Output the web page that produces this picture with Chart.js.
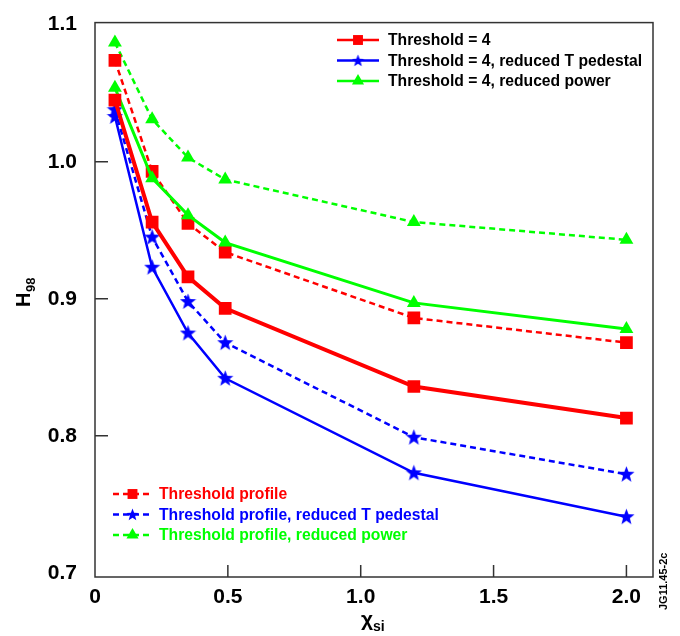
<!DOCTYPE html>
<html>
<head>
<meta charset="utf-8">
<script src="https://cdn.jsdelivr.net/npm/chart.js@4"></script>
<style>
  body { margin: 0; background: #fff; }
  #wrap { width: 680px; height: 636px; }
</style>
</head>
<body>
<div id="wrap"><canvas id="chart"></canvas></div>
<script>
// chi_si values (x) and H98 for each case
const chiSi = [0.075, 0.215, 0.35, 0.49, 1.2, 2.0];
const thr4 = [1.045, 0.956, 0.916, 0.893, 0.836, 0.813];
const thr4RedT = [1.033, 0.923, 0.875, 0.842, 0.773, 0.741];
const thr4RedP = [1.054, 0.988, 0.961, 0.941, 0.897, 0.878];
const prof = [1.074, 0.993, 0.955, 0.934, 0.886, 0.868];
const profRedT = [1.038, 0.945, 0.898, 0.868, 0.799, 0.772];
const profRedP = [1.087, 1.031, 1.003, 0.987, 0.956, 0.943];
const xTicks = [0, 0.5, 1.0, 1.5, 2.0];
const yTicks = [0.7, 0.8, 0.9, 1.0, 1.1];

const RED = '#ff0000', BLUE = '#0000ff', GREEN = '#00ff00';
const FONT = "'Liberation Sans', Arial, sans-serif";

function makeStar(size, color) {
  const c = document.createElement('canvas');
  c.width = size; c.height = size;
  const g = c.getContext('2d');
  const r = size / 2, ri = r * 0.42;
  g.fillStyle = color;
  g.beginPath();
  for (let i = 0; i < 10; i++) {
    const a = -Math.PI / 2 + i * Math.PI / 5;
    const rr = i % 2 ? ri : r;
    g.lineTo(r + rr * Math.cos(a), r + 0.5 + rr * Math.sin(a));
  }
  g.closePath();
  g.fill();
  return c;
}
const star = makeStar(17, BLUE);
const starSmall = makeStar(13, BLUE);

function pts(ys) { return ys.map((y, i) => ({x: chiSi[i], y: y})); }

const series = [
  {label: 'Threshold = 4', data: thr4, color: RED, style: 'rect', r: 9, dash: [], w: 4},
  {label: 'Threshold = 4, reduced T pedestal', data: thr4RedT, color: BLUE, style: star, r: 8, dash: [], w: 2.5},
  {label: 'Threshold = 4, reduced power', data: thr4RedP, color: GREEN, style: 'triangle', r: 8, dash: [], w: 3},
  {label: 'Threshold profile', data: prof, color: RED, style: 'rect', r: 9, dash: [6, 4], w: 2.5},
  {label: 'Threshold profile, reduced T pedestal', data: profRedT, color: BLUE, style: star, r: 8, dash: [6, 4], w: 2.5},
  {label: 'Threshold profile, reduced power', data: profRedP, color: GREEN, style: 'triangle', r: 8, dash: [6, 4], w: 2.5}
];

const decor = {
  id: 'decor',
  afterDraw(chart) {
    const ctx = chart.ctx, a = chart.chartArea;
    const xs = chart.scales.x, ys = chart.scales.y;
    ctx.save();
    // frame and inward ticks
    ctx.strokeStyle = '#333';
    ctx.lineWidth = 1.5;
    ctx.strokeRect(a.left, a.top, a.right - a.left, a.bottom - a.top);
    ctx.beginPath();
    xTicks.slice(1).forEach(v => {
      const px = xs.getPixelForValue(v);
      ctx.moveTo(px, a.bottom); ctx.lineTo(px, a.bottom - 12);
    });
    yTicks.slice(1, -1).forEach(v => {
      const py = ys.getPixelForValue(v);
      ctx.moveTo(a.left, py); ctx.lineTo(a.left + 13, py);
    });
    ctx.stroke();

    // axis titles
    ctx.fillStyle = '#000';
    ctx.textBaseline = 'alphabetic';
    ctx.font = 'bold 21px ' + FONT;
    ctx.textAlign = 'left';
    ctx.fillText('\u03c7', 361, 626);
    ctx.font = 'bold 14px ' + FONT;
    ctx.fillText('si', 373, 631);

    ctx.save();
    ctx.translate(30, 307);
    ctx.rotate(-Math.PI / 2);
    ctx.font = 'bold 20px ' + FONT;
    ctx.fillText('H', 0, 0);
    ctx.font = 'bold 13px ' + FONT;
    ctx.fillText('98', 15, 5);
    ctx.restore();

    // figure id
    ctx.save();
    ctx.translate(667, 610);
    ctx.rotate(-Math.PI / 2);
    ctx.font = 'bold 11px ' + FONT;
    ctx.fillText('JG11.45-2c', 0, 0);
    ctx.restore();

    // legends
    function entry(s, x1, x2, y, tx, textColor) {
      ctx.save();
      ctx.strokeStyle = s.color;
      ctx.lineWidth = 2.5;
      ctx.setLineDash(s.dash);
      ctx.beginPath();
      ctx.moveTo(x1, y); ctx.lineTo(x2, y);
      ctx.stroke();
      ctx.setLineDash([]);
      ctx.fillStyle = s.color;
      const st = s.style === star ? starSmall : s.style;
      Chart.helpers.drawPoint(ctx, {pointStyle: st, radius: 7, rotation: 0, borderWidth: 0}, (x1 + x2) / 2, y);
      ctx.fillStyle = textColor || s.color;
      ctx.font = 'bold 15.7px ' + FONT;
      ctx.textAlign = 'left';
      ctx.textBaseline = 'middle';
      ctx.fillText(s.label, tx, y + 1);
      ctx.restore();
    }
    [0, 1, 2].forEach((i, k) => entry(series[i], 337, 379, 40 + k * 20.5, 388, '#000'));
    [3, 4, 5].forEach((i, k) => entry(series[i], 113, 152, 494 + k * 20.5, 159));
    ctx.restore();
  }
};

new Chart(document.getElementById('chart').getContext('2d'), {
  type: 'line',
  data: {
    datasets: series.map(s => ({
      label: s.label,
      data: pts(s.data),
      borderColor: s.color,
      backgroundColor: s.color,
      borderWidth: s.w,
      borderDash: s.dash,
      pointStyle: s.style,
      pointRadius: s.r,
      pointBorderWidth: 0,
      pointBackgroundColor: s.color,
      tension: 0
    }))
  },
  options: {
    responsive: true,
    maintainAspectRatio: false,
    animation: false,
    layout: {padding: {top: 20, right: 27, left: 0, bottom: 0}},
    plugins: {legend: {display: false}, tooltip: {enabled: false}},
    scales: {
      x: {
        type: 'linear',
        min: 0,
        max: 2.1,
        afterBuildTicks: s => { s.ticks = xTicks.map(v => ({value: v})); },
        afterFit: s => { s.height = 59; },
        grid: {display: false},
        border: {display: false},
        ticks: {
          color: '#000',
          font: {family: FONT, size: 21, weight: 'bold'},
          padding: 0,
          maxRotation: 0,
          callback: v => v === 0 ? '0' : v.toFixed(1)
        }
      },
      y: {
        type: 'linear',
        min: 0.697,
        max: 1.1015,
        afterBuildTicks: s => { s.ticks = yTicks.map(v => ({value: v})); },
        afterFit: s => { s.width = 95; },
        grid: {display: false},
        border: {display: false},
        ticks: {
          color: '#000',
          font: {family: FONT, size: 21, weight: 'bold'},
          padding: 10,
          callback: v => v.toFixed(1)
        }
      }
    }
  },
  plugins: [decor]
});
</script>
</body>
</html>
